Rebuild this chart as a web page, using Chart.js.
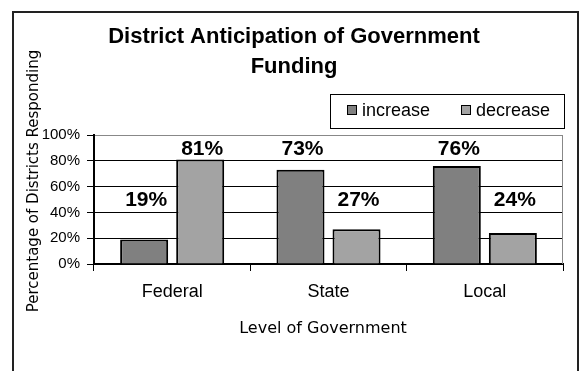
<!DOCTYPE html>
<html lang="en">
<head>
<meta charset="UTF-8">
<title>District Anticipation of Government Funding</title>
<style>
  body { margin: 0; background: #fff; }
  #chart { display: block; }
</style>
<script src="https://cdn.jsdelivr.net/npm/chart.js"></script>
</head>
<body>
<canvas id="chart" width="584" height="371"></canvas>
<script>
const categories = ["Federal", "State", "Local"];
const seriesNames = ["increase", "decrease"];
const increaseValues = [19, 73, 76];
const decreaseValues = [81, 27, 24];
const yTicks = [0, 20, 40, 60, 80, 100];
const titleLines = ["District Anticipation of Government", "Funding"];
const xTitle = "Level of Government";
const yTitle = "Percentage of Districts Responding";

const ARIAL = "'Liberation Sans', Arial, sans-serif";
const LUCIDA = "'DejaVu Sans', sans-serif";

// frame, titles, legend box and value labels (Excel style)
const decor = {
  id: "decor",
  afterDatasetsDraw(chart) {
    const ctx = chart.ctx;
    const y = chart.scales.y;
    ctx.save();
    ctx.fillStyle = "#000";
    ctx.font = "bold 21px " + ARIAL;
    ctx.textAlign = "center";
    ctx.textBaseline = "middle";
    chart.data.datasets.forEach((ds, i) => {
      chart.getDatasetMeta(i).data.forEach((bar, j) => {
        const v = ds.data[j];
        // labels sit on two rows like the original
        const ly = y.getPixelForValue(v > 50 ? 89 : 49.5);
        ctx.fillText(v + "%", bar.x + 2, ly);
      });
    });
    ctx.restore();
  },
  afterDraw(chart) {
    const ctx = chart.ctx;
    const a = chart.chartArea;
    ctx.save();

    // gray right edge of plot area
    ctx.strokeStyle = "#888";
    ctx.lineWidth = 1;
    ctx.beginPath();
    ctx.moveTo(Math.round(a.right) - 0.5, a.top);
    ctx.lineTo(Math.round(a.right) - 0.5, a.bottom);
    ctx.stroke();

    // outer chart frame (bottom edge runs off the picture)
    ctx.strokeStyle = "#222";
    ctx.lineWidth = 2;
    ctx.strokeRect(13, 12, 565, 380);

    // title
    ctx.fillStyle = "#000";
    ctx.textAlign = "center";
    ctx.textBaseline = "alphabetic";
    ctx.font = "bold 22px " + ARIAL;
    titleLines.forEach((t, i) => ctx.fillText(t, 294, 43 + i * 30));

    // axis titles
    ctx.font = "16px " + LUCIDA;
    ctx.fillText(xTitle, 323, 333);
    ctx.save();
    ctx.translate(38, 181);
    ctx.rotate(-Math.PI / 2);
    ctx.font = "15px " + LUCIDA;
    ctx.fillText(yTitle, 0, 0);
    ctx.restore();

    // legend
    ctx.strokeStyle = "#000";
    ctx.lineWidth = 1;
    ctx.strokeRect(330.5, 94.5, 234, 34);
    ctx.font = "18px " + ARIAL;
    ctx.textAlign = "left";
    ctx.textBaseline = "middle";
    const itemX = [347, 461];
    chart.data.datasets.forEach((ds, i) => {
      ctx.fillStyle = ds.backgroundColor;
      ctx.fillRect(itemX[i], 105, 10, 10);
      ctx.strokeRect(itemX[i] + 0.5, 105.5, 9, 9);
      ctx.fillStyle = "#000";
      ctx.fillText(ds.label, itemX[i] + 15, 111);
    });
    ctx.restore();
  }
};

new Chart(document.getElementById("chart"), {
  type: "bar",
  data: {
    labels: categories,
    datasets: [
      {
        label: seriesNames[0],
        data: increaseValues,
        backgroundColor: "#808080",
        borderColor: "#000",
        borderWidth: 2,
        categoryPercentage: 0.717,
        barPercentage: 0.857
      },
      {
        label: seriesNames[1],
        data: decreaseValues,
        backgroundColor: "#a3a3a3",
        borderColor: "#000",
        borderWidth: 2,
        categoryPercentage: 0.717,
        barPercentage: 0.857
      }
    ]
  },
  options: {
    responsive: false,
    animation: false,
    layout: { padding: { left: 14, right: 21, top: 135, bottom: 0 } },
    plugins: {
      legend: { display: false },
      title: { display: false },
      tooltip: { enabled: false }
    },
    scales: {
      x: {
        grid: { offset: true, drawOnChartArea: false, color: "#000", tickLength: 7 },
        border: { color: "#000", width: 2 },
        ticks: { color: "#000", font: { family: ARIAL, size: 18 }, padding: 10, maxRotation: 0 },
        afterFit: s => { s.height = 107; }
      },
      y: {
        min: yTicks[0],
        max: yTicks[yTicks.length - 1],
        ticks: {
          stepSize: yTicks[1] - yTicks[0],
          callback: v => v + "%",
          color: "#000",
          font: { family: ARIAL, size: 15 },
          padding: 7
        },
        grid: {
          color: c => (c.tick && c.tick.value === 100 ? "#888" : "#000"),
          tickColor: "#000",
          tickLength: 7,
          lineWidth: 1
        },
        border: { color: "#000", width: 2 },
        afterFit: s => { s.width = 80; }
      }
    }
  },
  plugins: [decor]
});
</script>
</body>
</html>
